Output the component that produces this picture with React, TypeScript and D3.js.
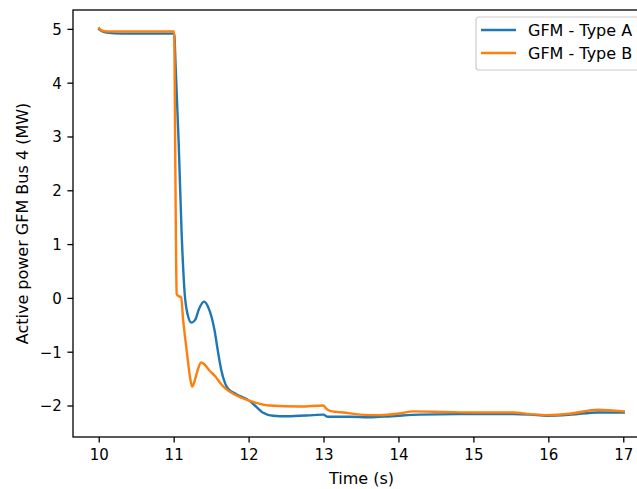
import React from "react";
import * as d3 from "d3";

const timeA = [10.0, 10.03, 10.1, 10.3, 10.6, 11.0, 11.02, 11.06, 11.1, 11.14, 11.18, 11.23, 11.28, 11.33, 11.4, 11.45, 11.5, 11.54, 11.58, 11.63, 11.68, 11.72, 11.83, 12.0, 12.1, 12.18, 12.32, 12.5, 12.85, 12.99, 13.05, 13.12, 13.35, 13.6, 13.9, 14.28, 14.8, 15.52, 15.75, 15.98, 16.3, 16.65, 17.0];
const powerA = [5.0, 4.97, 4.94, 4.92, 4.92, 4.92, 4.3, 2.9, 1.2, 0.1, -0.3, -0.45, -0.4, -0.2, -0.06, -0.15, -0.35, -0.6, -0.95, -1.34, -1.58, -1.68, -1.78, -1.9, -2.02, -2.12, -2.18, -2.19, -2.17, -2.16, -2.2, -2.2, -2.2, -2.21, -2.19, -2.16, -2.15, -2.15, -2.16, -2.18, -2.16, -2.12, -2.12];

const timeB = [10.0, 10.03, 10.1, 10.5, 11.0, 11.01, 11.026, 11.034, 11.05, 11.093, 11.12, 11.17, 11.21, 11.24, 11.27, 11.31, 11.36, 11.4, 11.47, 11.55, 11.62, 11.69, 11.8, 12.0, 12.27, 12.68, 12.99, 13.03, 13.08, 13.17, 13.25, 13.48, 13.75, 14.0, 14.19, 14.6, 15.0, 15.52, 15.75, 15.98, 16.3, 16.65, 17.0];
const powerB = [5.02, 4.98, 4.96, 4.96, 4.96, 3.5, 0.7, 0.08, 0.05, 0.02, -0.4, -1.0, -1.45, -1.64, -1.55, -1.35, -1.19, -1.22, -1.34, -1.45, -1.58, -1.68, -1.78, -1.9, -1.99, -2.01, -1.99, -2.05, -2.09, -2.11, -2.12, -2.16, -2.17, -2.14, -2.1, -2.11, -2.12, -2.12, -2.15, -2.17, -2.14, -2.07, -2.1];

const xTicks = [10, 11, 12, 13, 14, 15, 16, 17];
const yTicks = [-2, -1, 0, 1, 2, 3, 4, 5];
const seriesNames = ["GFM - Type A", "GFM - Type B"];
const seriesColors = ["#1f77b4", "#ff7f0e"];

const W = 637;
const H = 489;
const L = 73;
const R = 650;
const T = 10;
const B = 437;
const FONT = "DejaVu Sans, sans-serif";

export default function App() {
  const x = d3.scaleLinear().domain([9.65, 17.35]).range([L, R]);
  const y = d3.scaleLinear().domain([-2.576, 5.36]).range([B, T]);
  const line = d3
    .line<[number, number]>()
    .x((d) => x(d[0]))
    .y((d) => y(d[1]))
    .curve(d3.curveMonotoneX);
  const dataA: [number, number][] = timeA.map((t, i) => [t, powerA[i]]);
  const dataB: [number, number][] = timeB.map((t, i) => [t, powerB[i]]);
  const tickLen = 5.6;
  const pad = 5.6;

  return (
    <svg
      width={W}
      height={H}
      style={{ position: "absolute", left: 0, top: 0, background: "#fff" }}
      fontFamily={FONT}
    >
      <rect x={0} y={0} width={W} height={H} fill="#fff" />
      <defs>
        <clipPath id="plotclip">
          <rect x={L} y={T} width={R - L} height={B - T} />
        </clipPath>
      </defs>
      <g clipPath="url(#plotclip)">
        <path d={line(dataA) || ""} fill="none" stroke={seriesColors[0]} strokeWidth={2.4} strokeLinejoin="round" strokeLinecap="square" />
        <path d={line(dataB) || ""} fill="none" stroke={seriesColors[1]} strokeWidth={2.4} strokeLinejoin="round" strokeLinecap="square" />
      </g>
      {/* spines */}
      <rect x={L} y={T} width={R - L} height={B - T} fill="none" stroke="#000" strokeWidth={1.3} />
      {/* x ticks */}
      {xTicks.map((t) => (
        <g key={"x" + t}>
          <line x1={x(t)} x2={x(t)} y1={B} y2={B + tickLen} stroke="#000" strokeWidth={1.3} />
          <text x={x(t)} y={B + tickLen + pad + 11.5} textAnchor="middle" fontSize={15} fill="#000">
            {t}
          </text>
        </g>
      ))}
      {/* y ticks */}
      {yTicks.map((t) => (
        <g key={"y" + t}>
          <line x1={L - tickLen} x2={L} y1={y(t)} y2={y(t)} stroke="#000" strokeWidth={1.3} />
          <text x={L - tickLen - pad} y={y(t)} dy="0.36em" textAnchor="end" fontSize={15} fill="#000">
            {t < 0 ? "\u2212" + Math.abs(t) : t}
          </text>
        </g>
      ))}
      <text x={(L + R) / 2} y={484} textAnchor="middle" fontSize={16} fill="#000">
        Time (s)
      </text>
      <text
        transform={`translate(${22},${(T + B) / 2}) rotate(-90)`}
        textAnchor="middle"
        dy="0.35em"
        fontSize={16}
        fill="#000"
      >
        Active power GFM Bus 4 (MW)
      </text>
      {/* legend */}
      <rect x={476} y={17} width={R - 8 - 476} height={53} rx={3} fill="#fff" fillOpacity={0.8} stroke="#cccccc" strokeWidth={1.2} />
      {seriesNames.map((n, i) => (
        <g key={n}>
          <line x1={481} x2={516} y1={30 + i * 23} y2={30 + i * 23} stroke={seriesColors[i]} strokeWidth={2.4} />
          <text x={528} y={30 + i * 23} dy="0.36em" fontSize={16} fill="#000">
            {n}
          </text>
        </g>
      ))}
    </svg>
  );
}
